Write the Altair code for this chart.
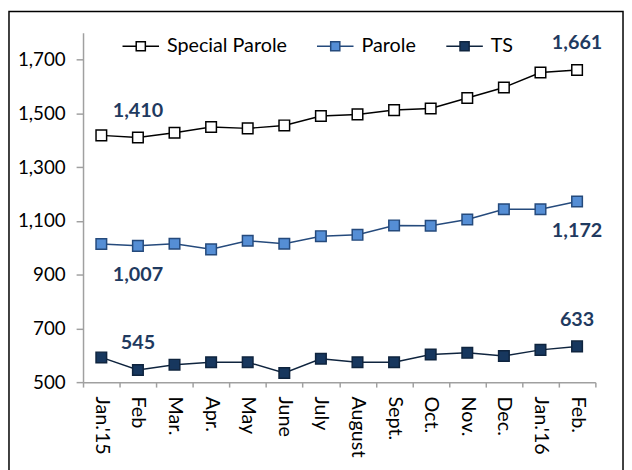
import altair as alt
import pandas as pd

months = ["Jan.'15", "Feb", "Mar.", "Apr.", "May", "June", "July", "August",
          "Sept.", "Oct.", "Nov.", "Dec.", "Jan.'16", "Feb."]
series_names = ["Special Parole", "Parole", "TS"]
special_parole = [1418, 1410, 1428, 1449, 1444, 1455, 1490, 1496, 1512, 1518, 1557, 1596, 1652, 1661]
parole = [1014, 1007, 1015, 994, 1026, 1015, 1043, 1048, 1083, 1082, 1105, 1143, 1143, 1172]
ts = [592, 545, 565, 574, 574, 534, 587, 574, 574, 603, 609, 597, 620, 633]
y_ticks = [500, 700, 900, 1100, 1300, 1500, 1700]
labelled_months = ["Feb", "Feb."]
labels_below = ["Parole"]

fill_colors = ["#FFFFFF", "#558ED5", "#17375E"]
stroke_colors = ["#000000", "#254A7C", "#0F243E"]

rows = []
for name, vals in zip(series_names, [special_parole, parole, ts]):
    for m, v in zip(months, vals):
        rows.append({"month": m, "series": name, "value": v})
df = pd.DataFrame(rows)

FONT = "Lato"
legend_symbol = "M-1,0H-0.25M0.25,0H1M-0.25,-0.25H0.25V0.25H-0.25Z"
legend = alt.Legend(title=None, orient="none", legendX=39, legendY=-6,
                    direction="horizontal", symbolType=legend_symbol,
                    symbolSize=1369, symbolStrokeWidth=1.5,
                    labelFontSize=20, labelFont=FONT, labelColor="black",
                    labelOffset=7, columnPadding=27)

x = alt.X("month:N", sort=months,
          scale=alt.Scale(type="band", paddingInner=0, paddingOuter=0),
          axis=alt.Axis(title=None, labelAngle=90, tickBand="extent",
                        labelFont=FONT, labelFontSize=20, labelColor="black",
                        domainColor="#A0A0A0", tickColor="#A0A0A0",
                        domainWidth=1.5, tickWidth=1.5, tickSize=5,
                        labelPadding=9, labelOverlap=False))
y = alt.Y("value:Q", scale=alt.Scale(domain=[500, 1800], nice=False, zero=False),
          axis=alt.Axis(title=None, values=y_ticks, format=",d", grid=False,
                        labelFont=FONT, labelFontSize=19, labelColor="black",
                        domainColor="#A0A0A0", tickColor="#A0A0A0",
                        domainWidth=1.5, tickWidth=1.5, tickSize=7,
                        labelPadding=11))

stroke = alt.Stroke("series:N", scale=alt.Scale(domain=series_names, range=stroke_colors), legend=legend)
fill = alt.Fill("series:N", scale=alt.Scale(domain=series_names, range=fill_colors), legend=legend)

base = alt.Chart(df)

lines = base.mark_line(strokeWidth=1.5).encode(x=x, y=y, stroke=stroke)
points = base.mark_point(shape="square", size=115, filled=True, strokeWidth=1.5, opacity=1).encode(
    x=x, y=y, fill=fill, stroke=stroke,
)

label_base = base.transform_filter(alt.FieldOneOfPredicate(field="month", oneOf=labelled_months))
labels_above = label_base.transform_filter(
    ~alt.FieldOneOfPredicate(field="series", oneOf=labels_below)
).mark_text(font=FONT, fontSize=20, fontWeight="bold", color="#1F3A60", dy=-27, baseline="middle").encode(
    x=x, y=y, text=alt.Text("value:Q", format=",d")
)
labels_under = label_base.transform_filter(
    alt.FieldOneOfPredicate(field="series", oneOf=labels_below)
).mark_text(font=FONT, fontSize=20, fontWeight="bold", color="#1F3A60", dy=30, baseline="middle").encode(
    x=x, y=y, text=alt.Text("value:Q", format=",d")
)

border = alt.Chart(pd.DataFrame({"k": [0]})).mark_rect(
    fill="transparent", stroke="black", strokeWidth=1.5
).encode(x=alt.value(-75), x2=alt.value(547), y=alt.value(-21.5), y2=alt.value(450))

chart = alt.layer(border, lines, points, labels_above, labels_under).properties(
    width=519, height=354,
    padding={"left": 76, "top": 22, "right": 29, "bottom": 86},
    autosize="none",
).configure_view(stroke=None)

chart.save("out.html", embed_options={"renderer": "svg", "actions": False})
